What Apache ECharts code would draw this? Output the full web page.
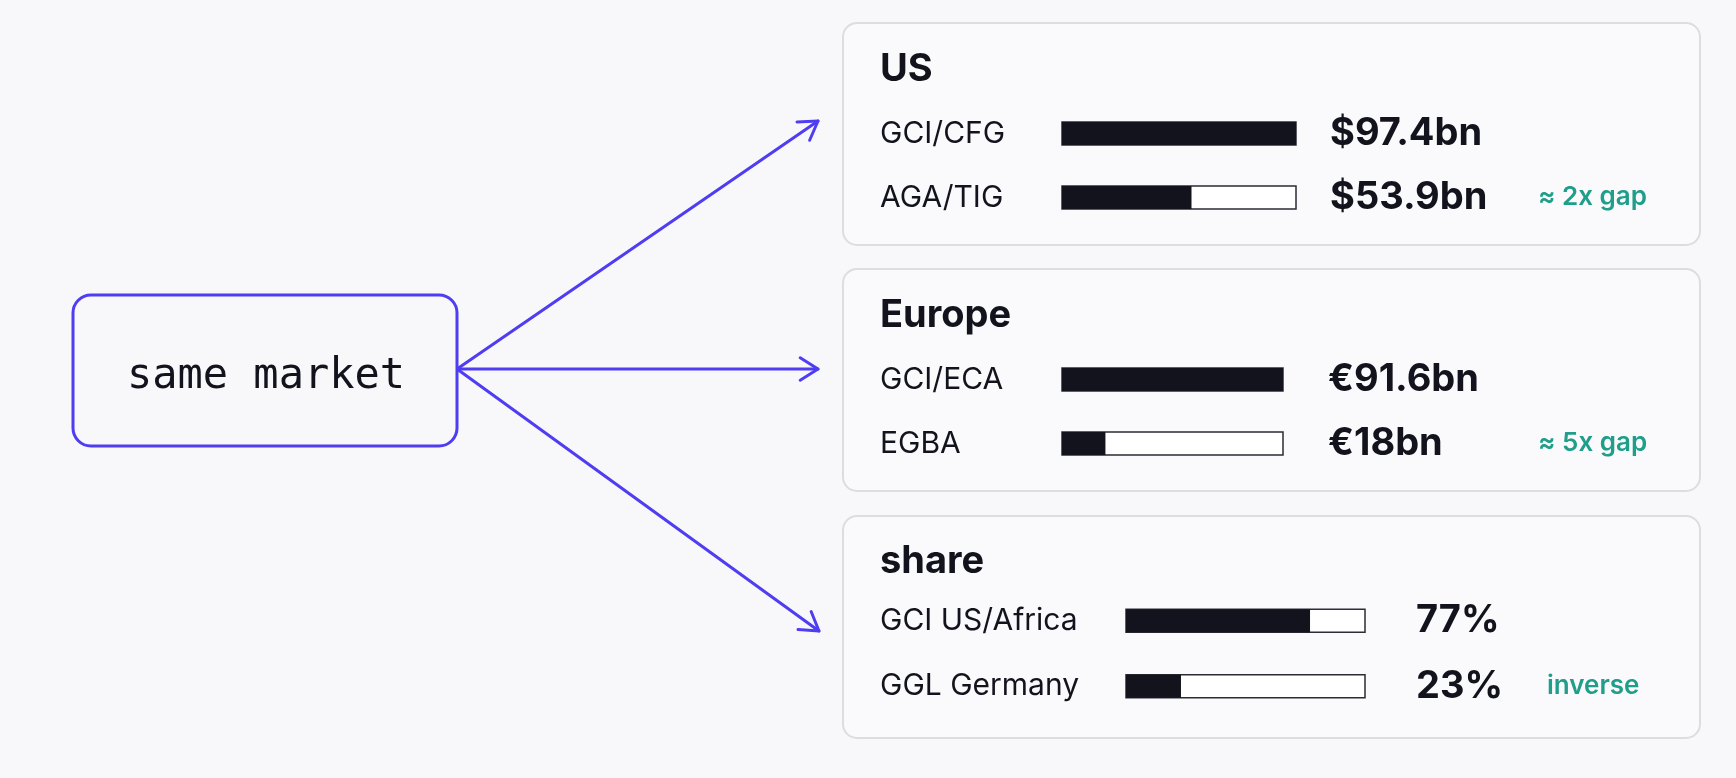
<!DOCTYPE html>
<html>
<head>
<meta charset="utf-8">
<script src="https://cdn.jsdelivr.net/npm/echarts@6/dist/echarts.min.js"></script>
<style>
html,body{margin:0;padding:0;background:#f8f8fb;}
#c{width:1736px;height:778px;}
</style>
</head>
<body>
<div id="c"></div>
<script>
// ---- data ----
const hubLabel = 'same market';
const cardTitles = ['US', 'Europe', 'share'];

const usLabels = ['GCI/CFG', 'AGA/TIG'];
const usValues = [97.4, 53.9];
const usNotes = ['', '≈ 2x gap'];

const euLabels = ['GCI/ECA', 'EGBA'];
const euValues = [91.6, 18];
const euNotes = ['', '≈ 5x gap'];

const shareLabels = ['GCI US/Africa', 'GGL Germany'];
const shareValues = [77, 23];
const shareNotes = ['', 'inverse'];

const usText = usValues.map(v => '$' + v + 'bn');
const euText = euValues.map(v => '€' + v + 'bn');
const shareText = shareValues.map(v => v + '%');

// ---- layout / style ----
const ACCENT = '#4f3df2';
const INK = '#12131c';
const TEAL = '#1f9e89';
const FONT = 'Inter, "Noto Sans", sans-serif';

const cards = [
  {top: 23, titleY: 70, labels: usLabels, values: usValues, text: usText, notes: usNotes, max: Math.max(...usValues),
   gridLeft: 1062, gridWidth: 234, gridTop: 101.5, gridHeight: 128, valueGap: 34, valueCol: 208},
  {top: 269, titleY: 316, labels: euLabels, values: euValues, text: euText, notes: euNotes, max: Math.max(...euValues),
   gridLeft: 1062, gridWidth: 221, gridTop: 347.5, gridHeight: 128, valueGap: 45, valueCol: 210},
  {top: 516, titleY: 562, labels: shareLabels, values: shareValues, text: shareText, notes: shareNotes, max: 100,
   gridLeft: 1126, gridWidth: 239, gridTop: 588, gridHeight: 131, valueGap: 51, valueCol: 131}
];

const grid = [], xAxis = [], yAxis = [], series = [], graphic = [];

cards.forEach((c, i) => {
  graphic.push({
    type: 'rect', z: -10,
    shape: {x: 843, y: c.top, width: 857, height: 222, r: 14},
    style: {fill: '#fafafc', stroke: '#dcdce2', lineWidth: 2}
  });
  graphic.push({
    type: 'text', z: 10, x: 880, y: c.titleY,
    style: {text: cardTitles[i], font: '700 38px ' + FONT, fill: INK, textVerticalAlign: 'middle', textAlign: 'left'}
  });

  grid.push({left: c.gridLeft, top: c.gridTop, width: c.gridWidth, height: c.gridHeight,
             containLabel: false, outerBoundsMode: 'none'});
  xAxis.push({gridIndex: i, type: 'value', min: 0, max: c.max, show: false});
  yAxis.push({
    gridIndex: i, type: 'category', data: c.labels, inverse: true, position: 'left',
    axisLine: {show: false}, axisTick: {show: false}, splitLine: {show: false},
    axisLabel: {align: 'left', margin: c.gridLeft - 880, color: INK, fontFamily: FONT, fontSize: 30, fontWeight: 400}
  });
  yAxis.push({
    gridIndex: i, type: 'category', data: c.text.map((t, k) => k), inverse: true, position: 'right',
    axisLine: {show: false}, axisTick: {show: false}, splitLine: {show: false},
    axisLabel: {
      align: 'left', margin: c.valueGap,
      formatter: (val) => {
        const k = +val;
        return '{v|' + c.text[k] + '}' + (c.notes[k] ? '{n|' + c.notes[k] + '}' : '');
      },
      rich: {
        v: {width: c.valueCol, fontFamily: FONT, fontSize: 38, fontWeight: 700, color: INK, verticalAlign: 'middle', lineHeight: 46},
        n: {fontFamily: FONT, fontSize: 26, fontWeight: 600, color: TEAL, verticalAlign: 'middle', lineHeight: 46}
      }
    }
  });
  series.push({
    type: 'bar', xAxisIndex: i, yAxisIndex: i * 2, data: c.values, barWidth: 23,
    itemStyle: {color: INK},
    showBackground: true,
    backgroundStyle: {color: '#ffffff', borderColor: '#2b2c35', borderWidth: 1.5},
    silent: true, animation: false
  });
});

// hub box
graphic.push({
  type: 'rect', z: 5,
  shape: {x: 73, y: 295, width: 384, height: 151, r: 18},
  style: {fill: '#f8f8fb', stroke: ACCENT, lineWidth: 3}
});
graphic.push({
  type: 'text', z: 6, x: 266, y: 377,
  style: {text: hubLabel, font: '400 42px "DejaVu Sans Mono", monospace', fill: INK, textAlign: 'center', textVerticalAlign: 'middle'}
});

// arrows
const origin = [457, 369];
const tips = [[818, 121], [818, 369], [819, 631]];
tips.forEach(t => {
  graphic.push({type: 'line', z: 4, shape: {x1: origin[0], y1: origin[1], x2: t[0], y2: t[1]},
                style: {stroke: ACCENT, lineWidth: 3, lineCap: 'round'}});
  const a = Math.atan2(t[1] - origin[1], t[0] - origin[0]);
  const L = 21, ang = 0.56;
  graphic.push({type: 'polyline', z: 4,
    shape: {points: [[t[0] - L * Math.cos(a - ang), t[1] - L * Math.sin(a - ang)], t,
                     [t[0] - L * Math.cos(a + ang), t[1] - L * Math.sin(a + ang)]]},
    style: {stroke: ACCENT, lineWidth: 3, fill: null, lineCap: 'round', lineJoin: 'round'}});
});

const chart = echarts.init(document.getElementById('c'), null, {renderer: 'canvas'});
chart.setOption({
  backgroundColor: '#f8f8fb',
  animation: false,
  grid, xAxis, yAxis, series, graphic
});
</script>
</body>
</html>
